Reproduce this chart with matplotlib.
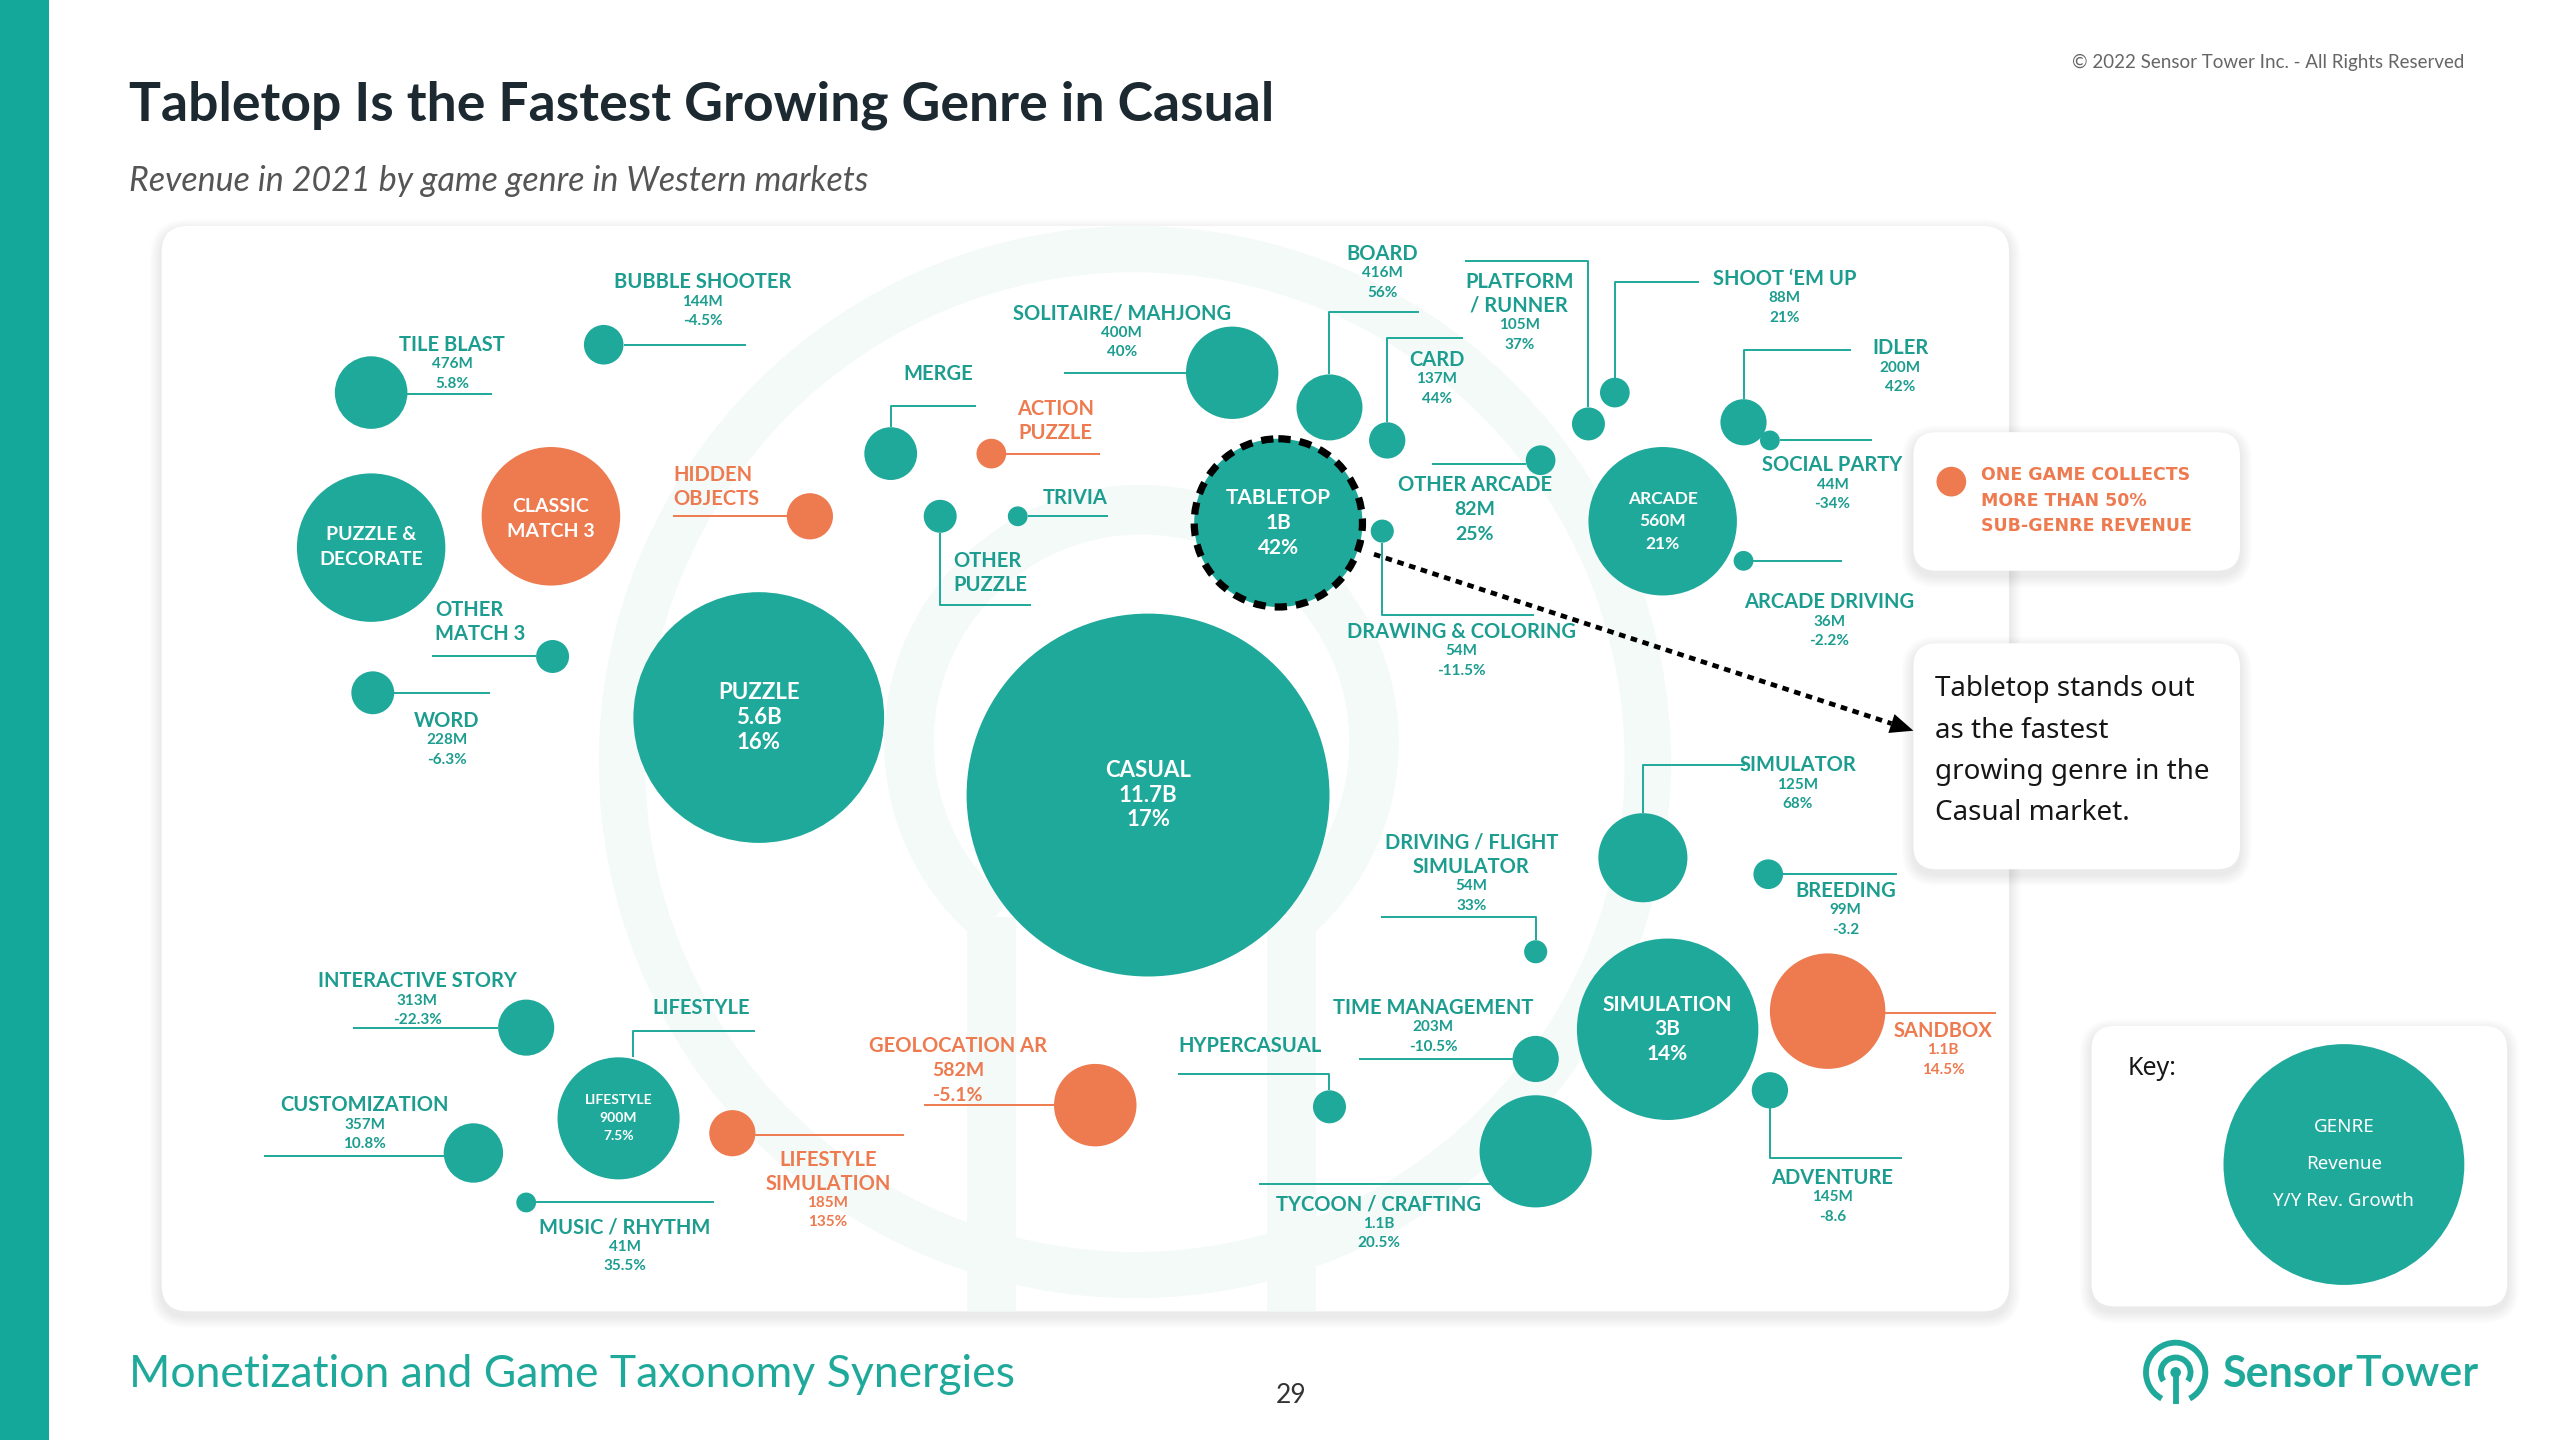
import matplotlib
matplotlib.use("Agg")
import numpy as np
import matplotlib.pyplot as plt
from matplotlib.patches import Circle, Wedge, FancyBboxPatch, Rectangle, Polygon, Arc

# DATA
genre_names = ["CASUAL", "PUZZLE", "TABLETOP", "ARCADE", "SIMULATION", "LIFESTYLE"]
genre_revenue = ["11.7B", "5.6B", "1B", "560M", "3B", "900M"]
genre_growth = ["17%", "16%", "42%", "21%", "14%", "7.5%"]

sub_names = ["TILE BLAST", "BUBBLE SHOOTER", "WORD", "SOLITAIRE/ MAHJONG", "BOARD", "CARD",
             "PLATFORM\n/ RUNNER", "SHOOT ‘EM UP", "IDLER", "SOCIAL PARTY", "OTHER ARCADE",
             "DRAWING & COLORING", "ARCADE DRIVING", "SIMULATOR", "BREEDING",
             "DRIVING / FLIGHT\nSIMULATOR", "TIME MANAGEMENT", "SANDBOX", "ADVENTURE",
             "TYCOON / CRAFTING", "INTERACTIVE STORY", "CUSTOMIZATION", "MUSIC / RHYTHM",
             "LIFESTYLE\nSIMULATION", "GEOLOCATION AR"]
sub_revenue = ["476M", "144M", "228M", "400M", "416M", "137M", "105M", "88M", "200M", "44M",
               "82M", "54M", "36M", "125M", "99M", "54M", "203M", "1.1B", "145M", "1.1B",
               "313M", "357M", "41M", "185M", "582M"]
sub_growth = ["5.8%", "-4.5%", "-6.3%", "40%", "56%", "44%", "37%", "21%", "42%", "-34%",
              "25%", "-11.5%", "-2.2%", "68%", "-3.2", "33%", "-10.5%", "14.5%", "-8.6",
              "20.5%", "-22.3%", "10.8%", "35.5%", "135%", "-5.1%"]

# sub-genres shown without figures
plain_names = ["PUZZLE &\nDECORATE", "CLASSIC\nMATCH 3", "HIDDEN\nOBJECTS", "OTHER\nMATCH 3",
               "MERGE", "ACTION\nPUZZLE", "TRIVIA", "OTHER\nPUZZLE", "LIFESTYLE", "HYPERCASUAL"]

# one game collects more than 50% of sub-genre revenue
dominated = ["CLASSIC\nMATCH 3", "HIDDEN\nOBJECTS", "ACTION\nPUZZLE", "SANDBOX",
             "LIFESTYLE\nSIMULATION", "GEOLOCATION AR"]

# LAYOUT (pixel positions on a 1552 x 873 canvas, y downwards)
W, H = 1552, 873
genre_layout = {  # x, y, radius, fontsize, line step
    "CASUAL": (696, 482, 110, 16, 15),
    "PUZZLE": (460, 435, 76, 16, 15),
    "TABLETOP": (775, 317, 51, 15, 15),
    "ARCADE": (1008, 316, 45, 12.5, 13.5),
    "SIMULATION": (1011, 624, 55, 15, 15),
    "LIFESTYLE": (375, 678, 37, 10, 11),
}
# circle x, y, r, label x, label y, align, leader line
sub_layout = {
    "TILE BLAST": (225, 238, 22, 274, 209, "center", [(247, 239), (298, 239)]),
    "BUBBLE SHOOTER": (366, 209, 12, 426, 171, "center", [(378, 209), (452, 209)]),
    "WORD": (226, 420, 13, 271, 437, "center", [(239, 420), (297, 420)]),
    "SOLITAIRE/ MAHJONG": (747, 226, 28, 680, 190, "center", [(645, 226), (719, 226)]),
    "BOARD": (806, 247, 20, 838, 154, "center", [(806, 227), (806, 189), (860, 189)]),
    "CARD": (841, 267, 11, 871, 218, "center", [(841, 256), (841, 205), (887, 205)]),
    "PLATFORM\n/ RUNNER": (963, 257, 10, 921, 171, "center", [(963, 247), (963, 158), (888, 158)]),
    "SHOOT ‘EM UP": (979, 238, 9, 1082, 169, "center", [(979, 229), (979, 171), (1030, 171)]),
    "IDLER": (1057, 256, 14, 1152, 211, "center", [(1057, 242), (1057, 212), (1122, 212)]),
    "SOCIAL PARTY": (1073, 267, 6, 1111, 282, "center", [(1079, 267), (1135, 267)]),
    "OTHER ARCADE": (934, 279, 9, 894, 294, "center", [(868, 281), (925, 281)]),
    "DRAWING & COLORING": (838, 322, 7, 886, 383, "center", [(838, 329), (838, 373), (930, 373)]),
    "ARCADE DRIVING": (1057, 340, 6, 1109, 365, "center", [(1063, 340), (1117, 340)]),
    "SIMULATOR": (996, 520, 27, 1090, 464, "center", [(996, 493), (996, 464), (1058, 464)]),
    "BREEDING": (1072, 530, 9, 1119, 540, "center", [(1081, 530), (1150, 530)]),
    "DRIVING / FLIGHT\nSIMULATOR": (931, 577, 7, 892, 511, "center", [(837, 556), (931, 556), (931, 570)]),
    "TIME MANAGEMENT": (931, 642, 14, 869, 611, "center", [(824, 642), (917, 642)]),
    "SANDBOX": (1108, 613, 35, 1178, 625, "center", [(1143, 614), (1210, 614)]),
    "ADVENTURE": (1073, 661, 11, 1111, 714, "center", [(1073, 672), (1073, 702), (1153, 702)]),
    "TYCOON / CRAFTING": (931, 698, 34, 836, 730, "center", [(763, 718), (904, 718)]),
    "INTERACTIVE STORY": (319, 623, 17, 253, 595, "center", [(214, 623), (302, 623)]),
    "CUSTOMIZATION": (287, 699, 18, 221, 670, "center", [(160, 701), (269, 701)]),
    "MUSIC / RHYTHM": (319, 729, 6, 379, 744, "center", [(325, 729), (433, 729)]),
    "LIFESTYLE\nSIMULATION": (444, 687, 14, 502, 703, "center", [(458, 688), (548, 688)]),
    "GEOLOCATION AR": (664, 670, 25, 581, 634, "center", [(560, 670), (639, 670)]),
    "PUZZLE &\nDECORATE": (225, 332, 45, 225, 324, "inside", []),
    "CLASSIC\nMATCH 3": (334, 313, 42, 334, 307, "inside", []),
    "HIDDEN\nOBJECTS": (491, 313, 14, 408, 288, "left", [(408, 313), (477, 313)]),
    "OTHER\nMATCH 3": (335, 398, 10, 264, 370, "left", [(262, 398), (325, 398)]),
    "MERGE": (540, 275, 16, 569, 227, "center", [(540, 259), (540, 246), (592, 246)]),
    "ACTION\nPUZZLE": (601, 275, 9, 640, 248, "center", [(610, 275), (667, 275)]),
    "TRIVIA": (617, 313, 6, 652, 302, "center", [(623, 313), (672, 313)]),
    "OTHER\nPUZZLE": (570, 313, 10, 578, 340, "left", [(570, 323), (570, 367), (625, 367)]),
    "LIFESTYLE": (None, None, 0, 425, 611, "center", [(458, 625), (384, 625), (384, 641)]),
    "HYPERCASUAL": (806, 671, 10, 758, 634, "center", [(714, 651), (806, 651), (806, 661)]),
}
big_values = ["OTHER ARCADE", "GEOLOCATION AR"]

# STYLE
TEAL = "#1fa99b"
TEAL_TXT = "#1c9d8f"
ORANGE = "#ee7a50"
PALE = "#f3faf8"
LABEL_FONT = ["Lato", "DejaVu Sans"]

fig = plt.figure(figsize=(25.6, 14.4), dpi=100)
ax = fig.add_axes([0, 0, 1, 1])
ax.set_xlim(0, W)
ax.set_ylim(H, 0)
ax.axis("off")


def card(x0, y0, x1, y1, z, r=14):
    # soft shadow then white rounded box
    for k in range(1, 8):
        ax.add_patch(FancyBboxPatch((x0 - k, y0 - k + 3), x1 - x0 + 2 * k, y1 - y0 + 2 * k,
                                    boxstyle=f"round,pad=0,rounding_size={r + k}",
                                    fc="black", ec="none", alpha=0.010, zorder=z))
    p = FancyBboxPatch((x0, y0), x1 - x0, y1 - y0, boxstyle=f"round,pad=0,rounding_size={r}",
                       fc="white", ec="none", zorder=z + 0.1)
    ax.add_patch(p)
    return p


# left accent bar
ax.add_patch(Rectangle((0, 0), 30, H, fc="#13a89a", ec="none", zorder=1))

# header
ax.text(78, 64, "Tabletop Is the Fastest Growing Genre in Casual", fontsize=38.5, fontweight="bold",
        family="Lato", color="#1d2930", va="center", ha="left")
ax.text(78, 110, "Revenue in 2021 by game genre in Western markets", fontsize=24.5, style="italic",
        family="Lato", color="#555555", va="center", ha="left")
ax.text(1494, 38, "© 2022 Sensor Tower Inc. - All Rights Reserved", fontsize=13.5,
        family="Lato", color="#666666", va="center", ha="right")

# main panel with background rings
panel = card(98, 137, 1218, 795, 1, r=16)
rings = [
    Wedge((688, 462), 325, 0, 360, width=28, fc=PALE, ec="none", zorder=1.5),
    Wedge((692, 450), 156, 130, 410, width=30, fc=PALE, ec="none", zorder=1.5),
    Rectangle((586, 556), 30, 260, fc=PALE, ec="none", zorder=1.5),
    Rectangle((768, 556), 30, 260, fc=PALE, ec="none", zorder=1.5),
]
for p in rings:
    ax.add_patch(p)
    p.set_clip_path(panel)

# genre circles
for name, rev, gr in zip(genre_names, genre_revenue, genre_growth):
    x, y, r, fs, step = genre_layout[name]
    if name == "TABLETOP":
        ax.add_patch(Circle((x, y), r, fc=TEAL, ec="black", lw=5.2, ls=(0, (1.7, 1.25)), zorder=4))
    else:
        ax.add_patch(Circle((x, y), r, fc=TEAL, ec="none", zorder=4))
    for i, t in enumerate([name, rev, gr]):
        ax.text(x, y + (i - 1) * step, t, color="white", fontsize=fs, fontweight="bold",
                family=LABEL_FONT, ha="center", va="center", zorder=6)


def draw_sub(name, rev=None, gr=None):
    cx, cy, r, lx, ly, ha, path = sub_layout[name]
    col = ORANGE if name in dominated else TEAL
    tcol = ORANGE if name in dominated else TEAL_TXT
    if path:
        xs, ys = zip(*path)
        ax.plot(xs, ys, color=col, lw=1.4, solid_capstyle="butt", zorder=3)
    if cx is not None:
        ax.add_patch(Circle((cx, cy), r, fc=col, ec="none", zorder=4))
    lines = name.split("\n")
    if ha == "inside":
        for i, t in enumerate(lines):
            ax.text(lx, ly + i * 15, t, color="white", fontsize=14, fontweight="bold",
                    family=LABEL_FONT, ha="center", va="center", zorder=6)
        return
    for i, t in enumerate(lines):
        ax.text(lx, ly + i * 14.5, t, color=tcol, fontsize=14.5, fontweight="bold",
                family=LABEL_FONT, ha=ha, va="center", zorder=6)
    if rev is None:
        return
    y0 = ly + (len(lines) - 1) * 14.5
    big = name in big_values
    step, fs = (15, 14) if big else (11.8, 11)
    for j, v in enumerate([rev, gr]):
        ax.text(lx, y0 + (j + 1) * step, v, color=tcol, fontsize=fs, fontweight="bold",
                family=LABEL_FONT, ha="center", va="center", zorder=6)


for name, rev, gr in zip(sub_names, sub_revenue, sub_growth):
    draw_sub(name, rev, gr)
for name in plain_names:
    draw_sub(name)

# legend box
card(1160, 262, 1358, 346, 7)
ax.add_patch(Circle((1183, 292), 9, fc=ORANGE, ec="none", zorder=8))
for i, t in enumerate(["ONE GAME COLLECTS", "MORE THAN 50%", "SUB-GENRE REVENUE"]):
    ax.text(1201, 288 + i * 15.5, t, color=ORANGE, fontsize=12.5, fontweight="bold",
            family="DejaVu Sans", ha="left", va="center", zorder=9)

# callout box
card(1160, 390, 1358, 527, 7)
for i, t in enumerate(["Tabletop stands out", "as the fastest", "growing genre in the", "Casual market."]):
    ax.text(1173, 418 + i * 25, t, color="#161616", fontsize=20, family="Noto Sans",
            ha="left", va="center", zorder=9)

# dashed arrow from tabletop to callout
x0, y0, x1, y1 = 833, 336, 1160, 443
d = np.array([x1 - x0, y1 - y0], float)
d /= np.hypot(*d)
nrm = np.array([-d[1], d[0]])
base = np.array([x1, y1]) - 14 * d
ax.plot([x0, base[0]], [y0, base[1]], color="black", lw=3.4, ls=(0, (1.4, 1.2)), zorder=10)
ax.add_patch(Polygon([(x1, y1), tuple(base + 6 * nrm), tuple(base - 6 * nrm)],
                     closed=True, fc="black", ec="none", zorder=10))

# key box
card(1268, 622, 1520, 792, 7)
ax.text(1290, 648, "Key:", fontsize=18, family="Noto Sans", color="#161616", ha="left",
        va="center", zorder=9)
ax.add_patch(Circle((1421, 706), 73, fc=TEAL, ec="none", zorder=8))
for i, t in enumerate(["GENRE", "Revenue", "Y/Y Rev. Growth"]):
    ax.text(1421, 683 + i * 22.5, t, color="white", fontsize=13.5, family="Noto Sans",
            ha="center", va="center", zorder=9)

# footer
ax.text(78, 833, "Monetization and Game Taxonomy Synergies", fontsize=32, fontweight="normal",
        family="Lato", color="#1fa99b", ha="left", va="center")
ax.text(783, 846, "29", fontsize=19, family="Lato", color="#333333", ha="center", va="center")

# logo
lc = (1319, 832)
ax.add_patch(Arc(lc, 36, 36, theta1=118, theta2=422, color=TEAL, lw=4.2))
ax.add_patch(Arc(lc, 18, 18, theta1=145, theta2=395, color=TEAL, lw=4.2))
ax.add_patch(Circle(lc, 3.2, fc=TEAL, ec="none"))
ax.plot([lc[0], lc[0]], [lc[1], lc[1] + 19], color=TEAL, lw=4.2, solid_capstyle="butt")
t1 = ax.text(1347, 833, "Sensor", fontsize=31, fontweight="bold", family="Lato", color=TEAL,
             ha="left", va="center")
fig.canvas.draw()
bb = t1.get_window_extent()
xe = ax.transData.inverted().transform((bb.x1, bb.y0))[0]
ax.text(xe + 2, 833, "Tower", fontsize=31, fontweight="semibold", family="Lato", color=TEAL,
        ha="left", va="center")

fig.savefig("out.png", dpi=100, facecolor="white")
